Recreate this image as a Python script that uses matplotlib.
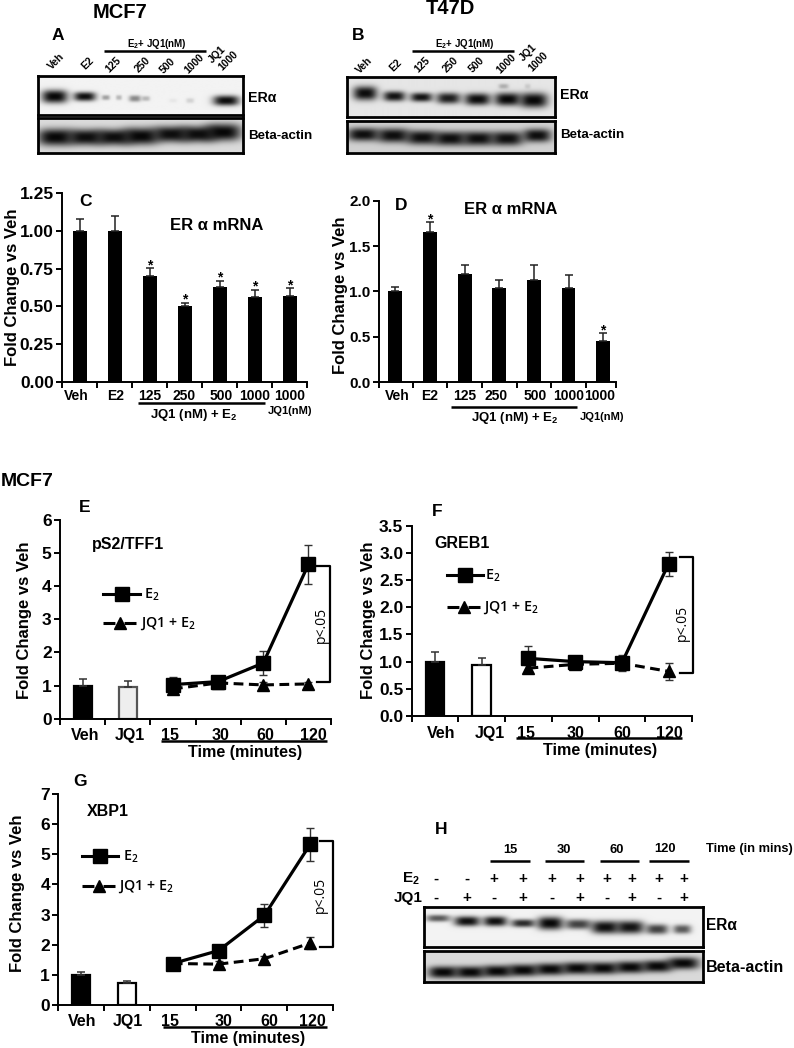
import numpy as np
import matplotlib
matplotlib.use("Agg")
import matplotlib.pyplot as plt

plt.rcParams['font.family'] = ['Liberation Sans', 'DejaVu Sans']
plt.rcParams['mathtext.default'] = 'regular'

W, H = 794, 1048

# ---- bar panels
bar_labels = ["Veh", "E2", "125", "250", "500", "1000", "1000"]
c_vals = [1.0, 1.0, 0.70, 0.50, 0.63, 0.565, 0.57]
c_errs = [0.08, 0.095, 0.055, 0.025, 0.04, 0.045, 0.05]
c_stars = [2, 3, 4, 5, 6]
d_vals = [1.0, 1.65, 1.19, 1.04, 1.13, 1.04, 0.45]
d_errs = [0.05, 0.11, 0.10, 0.08, 0.16, 0.14, 0.09]
d_stars = [1, 6]

# ---- time course panels
time_labels = ["Veh", "JQ1", "15", "30", "60", "120"]
e_bars, e_bar_errs = [1.0, 0.96], [0.2, 0.18]
e_e2, e_e2_err = [1.03, 1.12, 1.68, 4.66], [0.24, 0.06, 0.37, 0.58]
e_jq, e_jq_err = [0.9, 1.08, 1.02, 1.05], [0.06, 0.05, 0.1, 0.05]
f_bars, f_bar_errs = [1.0, 0.93], [0.17, 0.13]
f_e2, f_e2_err = [1.06, 1.0, 0.98, 2.8], [0.22, 0.1, 0.1, 0.22]
f_jq, f_jq_err = [0.88, 0.95, 0.97, 0.82], [0.05, 0.08, 0.15, 0.15]
g_bars, g_bar_errs = [0.98, 0.72], [0.1, 0.08]
g_e2, g_e2_err = [1.37, 1.8, 2.97, 5.33], [0.06, 0.1, 0.38, 0.55]
g_jq, g_jq_err = [1.37, 1.35, 1.53, 2.05], [0.05, 0.1, 0.1, 0.2]

# ---- blots: lane x, lane y, half width, half height, darkness (picture pixels)
a_era = ([54, 84, 105, 118, 134, 145, 172, 189, 225],
         [97, 97, 98, 98, 99, 99, 101, 101, 101],
         [13, 11, 4, 3, 6, 4, 4, 4, 13],
         [6.5, 4.5, 2.5, 2.5, 3.2, 2.5, 2, 2.5, 5],
         [1, .97, .35, .25, .45, .25, .05, .14, .98])
a_act = ([55, 85, 113, 140, 170, 197, 222],
         [137, 137, 137, 136, 134, 134, 132],
         [18, 18, 18, 18, 18, 18, 18],
         [8.5, 8, 8, 8.5, 8, 8, 8.5],
         [1, .97, .97, 1, .97, .97, 1])
b_era = ([365, 394, 421, 448, 477, 507, 533, 503, 527],
         [93, 96, 97, 98, 99, 99, 100, 86, 86],
         [12, 11, 11, 12, 13, 13, 14, 5, 3],
         [7, 5, 4.5, 5.5, 6, 6.5, 7.5, 2.5, 2.5],
         [.98, .95, .95, .9, .98, 1, 1, .25, .12])
b_act = ([363, 393, 422, 450, 478, 507, 537],
         [135, 136, 138, 139, 139, 139, 136],
         [16, 16, 16, 16, 16, 16, 14],
         [6.5, 7, 7, 7, 7, 7, 6.5],
         [.97, .97, .97, .97, .97, .97, .97])
h_era = ([438, 467, 495, 523, 550, 578, 605, 630, 657, 682],
         [918, 921, 921, 923, 923, 924, 927, 927, 929, 929],
         [12, 13, 12, 12, 13, 13, 14, 14, 11, 9],
         [3.5, 5, 5, 4, 6.5, 5, 6.5, 6.5, 5, 4.5],
         [.65, .97, .97, .85, 1, .75, .97, .95, .75, .65])
h_act = ([443, 470, 497, 523, 550, 577, 603, 630, 657, 683],
         [972, 972, 971, 970, 969, 968, 968, 967, 966, 963],
         [15, 15, 15, 15, 15, 15, 15, 15, 15, 16],
         [6, 6, 6, 6, 6, 6, 6, 6, 6, 6],
         [1, 1, 1, 1, 1, 1, 1, 1, 1, 1])

e2_signs = ["-", "-", "+", "+", "+", "+", "+", "+", "+", "+"]
jq_signs = ["-", "+", "-", "+", "-", "+", "-", "+", "-", "+"]
sign_x = [436, 467, 494, 523, 552, 580, 607, 632, 659, 684]

fig = plt.figure(figsize=(W / 100, H / 100), dpi=100)


def px_axes(left, top, right, bottom):
    return fig.add_axes([left / W, 1 - bottom / H, (right - left) / W, (bottom - top) / H])


# overlay in picture pixels, for labels and brackets
ov = fig.add_axes([0, 0, 1, 1], zorder=10)
ov.set_xlim(0, W)
ov.set_ylim(H, 0)
ov.axis('off')


def label(x, y, s, size=10, weight='bold', ha='center', va='center', rot=0, **kw):
    ov.text(x, y, s, fontsize=size, fontweight=weight, ha=ha, va=va, rotation=rot,
            rotation_mode='anchor', **kw)


def hline(x0, x1, y, lw=1.8):
    ov.plot([x0, x1], [y, y], color='black', lw=lw, solid_capstyle='butt')


def blot(rect, band, bg=0.95):
    left, top, right, bottom = rect
    ax = px_axes(left, top, right, bottom)
    xx, yy = np.meshgrid(np.arange(left, right, 0.5), np.arange(top, bottom, 0.5))
    light = np.ones_like(xx)
    for x, y, w, h, d in zip(*band):
        light *= 1 - d * np.exp(-np.abs((xx - x) / w) ** 3 - np.abs((yy - y) / h) ** 2.5)
    ax.imshow(0.03 + (bg - 0.03) * light, cmap='gray', vmin=0, vmax=1, aspect='auto',
              extent=(left, right, bottom, top), interpolation='bilinear')
    ax.set_xticks([])
    ax.set_yticks([])
    for s in ax.spines.values():
        s.set_linewidth(2)


def style(ax, yticks, fmt, size, xsize, pad):
    ax.spines['top'].set_visible(False)
    ax.spines['right'].set_visible(False)
    ax.spines['left'].set_linewidth(1.4)
    ax.spines['bottom'].set_linewidth(1.4)
    ax.set_yticks(yticks)
    ax.set_yticklabels([fmt % t for t in yticks], fontsize=size, fontweight='bold')
    ax.tick_params(axis='y', length=4, width=1.4, pad=2)
    ax.tick_params(axis='x', which='major', length=0, pad=pad, labelsize=xsize)
    ax.tick_params(axis='x', which='minor', length=4, width=1.4)
    for t in ax.get_xticklabels():
        t.set_fontweight('bold')


def bar_panel(rect, vals, errs, stars, xlim, ymax, yticks, fmt, label_pos, tsize=12.5):
    ax = px_axes(*rect)
    x = np.arange(len(vals))
    ax.bar(x, vals, width=0.4, color='black')
    ax.errorbar(x, vals, yerr=[np.zeros(len(vals)), errs], fmt='none', ecolor='#222222',
                elinewidth=1.1, capsize=3, capthick=1.1)
    for i in stars:
        ax.annotate('*', (x[i], vals[i] + errs[i]), xytext=(0, -3), textcoords='offset points',
                    ha='center', va='bottom', fontsize=10, fontweight='bold')
    ax.set_xlim(*xlim)
    ax.set_ylim(0, ymax)
    ax.set_xticks(label_pos)
    ax.set_xticklabels(bar_labels)
    ax.set_xticks([xlim[0]] + [i + 0.5 for i in range(6)] + [xlim[1]], minor=True)
    style(ax, yticks, fmt, tsize, 10, 5)
    return ax


def time_panel(rect, bars, bar_errs, e2, e2_err, jq, jq_err, ymax, yticks, fmt, face, edge, label_pos):
    ax = px_axes(*rect)
    ax.bar([0, 1], bars, width=0.4, color=[('black'), face], edgecolor=['black', edge], linewidth=1.6)
    ax.errorbar([0, 1], bars, yerr=[[0, 0], bar_errs], fmt='none', ecolor='#333333',
                elinewidth=1.1, capsize=3, capthick=1.1)
    t = np.arange(2, 6)
    ax.errorbar(t, jq, yerr=jq_err, color='black', lw=2.2, ls=(0, (3.2, 1.8)), marker='^', ms=8,
                ecolor='#333333', elinewidth=1, capsize=3, capthick=1)
    ax.errorbar(t, e2, yerr=e2_err, color='black', lw=2.3, marker='s', ms=9.5,
                ecolor='#333333', elinewidth=1, capsize=3, capthick=1)
    ax.set_xlim(-0.5, 5.5)
    ax.set_ylim(0, ymax)
    ax.set_xticks(label_pos)
    ax.set_xticklabels(time_labels)
    ax.set_xticks(np.arange(-0.5, 5.6, 1), minor=True)
    style(ax, yticks, fmt, 12.5, 11.5, 7)
    return ax


def legend_key(x0, x1, y, marker, ms, dashed, text, tx):
    ls = (0, (3.9, 3.0)) if dashed else '-'
    ov.plot([x0, x1], [y, y], color='black', lw=2.2, ls=ls, dash_capstyle='butt')
    ov.plot([(x0 + x1) / 2], [y], color='black', marker=marker, ms=ms)
    ov.text(tx, y + 1, text, fontsize=10.3, fontfamily='Open Sans', fontweight='semibold',
            ha='left', va='center')


def bracket(x0, x1, top, bottom, tx, ty):
    ov.plot([x0, x1, x1, x0], [top, top, bottom, bottom], color='black', lw=1.6)
    ov.text(tx, ty, 'p<.05', fontsize=10, fontfamily='Open Sans', rotation=90, ha='center', va='center')


# ---- blots A, B, H
blot((37.5, 76, 243, 114.5), a_era)
blot((37.5, 118, 243, 153), a_act, 0.86)
blot((347, 77, 554.5, 117), b_era, 0.9)
blot((347, 121, 555, 152.5), b_act, 0.82)
blot((424, 907, 703, 947), h_era)
blot((424, 951, 703, 982), h_act, 0.85)

# ---- charts
bar_panel((62, 193, 307, 382), c_vals, c_errs, c_stars, (-0.5, 6.5), 1.25,
          [0, .25, .5, .75, 1, 1.25], '%.2f', [-0.08, 1.02, 2, 3, 4.05, 5, 6])
bar_panel((379, 200.7, 616, 382), d_vals, d_errs, d_stars, (-0.47, 6.37), 2.0,
          [0, .5, 1, 1.5, 2], '%.1f', [0.05, 1, 2, 2.9, 4.05, 5, 5.9], tsize=11)
time_panel((60, 520, 331, 718.7), e_bars, e_bar_errs, e_e2, e_e2_err, e_jq, e_jq_err, 6,
           [0, 1, 2, 3, 4, 5, 6], '%d', '#eeeeee', '#555555', [0.06, 1.05, 1.94, 3.05, 4.05, 5.12])
time_panel((411.7, 525.7, 692, 716), f_bars, f_bar_errs, f_e2, f_e2_err, f_jq, f_jq_err, 3.5,
           [0, .5, 1, 1.5, 2, 2.5, 3, 3.5], '%.1f', 'white', 'black', [0.12, 1.17, 1.95, 3, 4, 5.02])
time_panel((58.3, 794.3, 333, 1004.7), g_bars, g_bar_errs, g_e2, g_e2_err, g_jq, g_jq_err, 7,
           [0, 1, 2, 3, 4, 5, 6, 7], '%d', 'white', 'black', [0.02, 1.02, 1.95, 3.1, 4.1, 5.05])

# ---- y labels
for x, y in [(13, 287), (341, 295), (25, 620), (369, 620), (18, 893)]:
    label(x, y, 'Fold Change vs Veh', size=12, rot=90)

# ---- panel headings
label(120, 12, 'MCF7', size=14.5)
label(450, 9, 'T47D', size=14.5)
label(1, 482, 'MCF7', size=14, ha='left')
for x, y, s in [(58, 36, 'A'), (358, 36, 'B'), (86, 202, 'C'), (401, 205, 'D'), (85, 507, 'E'),
                (437, 511, 'F'), (80, 782, 'G'), (441, 829, 'H')]:
    label(x, y, s, size=12.5)

label(217, 225, 'ER α mRNA', size=12)
label(511, 210, 'ER α mRNA', size=12)
label(128, 544, 'pS2/TFF1', size=11.5)
label(462, 543, 'GREB1', size=11.5)
label(108, 812, 'XBP1', size=11.5)

# ---- lane labels above blots A and B
for x, y, s in [(56, 61, 'Veh'), (88, 63, 'E2'), (113, 65, '125'), (143, 65, '250'), (168, 66, '500'),
                (194, 64, '1000'), (217, 55, 'JQ1'), (228, 61, '1000'),
                (364, 65, 'Veh'), (396, 65, 'E2'), (422, 65, '125'), (451, 65, '250'), (477, 65, '500'),
                (506, 64, '1000'), (528, 53, 'JQ1'), (538, 62, '1000')]:
    label(x, y, s, size=7.5, rot=45)
label(157, 44, 'E$_2$+ JQ1(nM)', size=7)
label(465, 44, 'E$_2$+ JQ1(nM)', size=7)
hline(104, 206, 51)
hline(412, 514, 51)
for x, y, sz in [(248, 98, 10.2), (560, 95, 10.2), (706, 925, 11.2)]:
    label(x, y, 'ERα', size=sz, ha='left')
for x, y, sz in [(248, 136, 9.6), (560, 135, 9.6), (706, 968, 11.6)]:
    label(x, y, 'Beta-actin', size=sz, ha='left')

# ---- group labels under bars
hline(138, 265, 403)
label(194, 415, 'JQ1 (nM) + E$_2$', size=9.5)
label(290, 411, 'JQ1(nM)', size=8)
hline(451, 577, 407)
label(515, 418, 'JQ1 (nM) + E$_2$', size=9.5)
label(602, 417, 'JQ1(nM)', size=8)

# ---- time underlines
hline(161, 327, 741)
label(245, 753, 'Time (minutes)', size=11.6)
hline(516, 682, 738)
label(600, 751, 'Time (minutes)', size=11.6)
hline(163, 327, 1027)
label(248, 1039, 'Time (minutes)', size=11.6)

# ---- legends and brackets
legend_key(103, 140, 594, 's', 9.5, False, 'E$_2$', 144)
legend_key(103, 136, 623, '^', 8, True, 'JQ1 + E$_2$', 140)
legend_key(447, 483, 575, 's', 9.5, False, 'E$_2$', 485)
legend_key(447, 480, 607, '^', 8, True, 'JQ1 + E$_2$', 483)
legend_key(82, 118, 856, 's', 9.5, False, 'E$_2$', 123)
legend_key(82, 115, 886, '^', 8, True, 'JQ1 + E$_2$', 118)
bracket(317, 330, 566, 682, 321, 625)
bracket(680, 693, 557, 673, 682, 623)
bracket(320, 333, 841, 947, 320, 895)

# ---- panel H header
for x, y, s, x0, x1 in [(510, 850, '15', 490, 530), (564, 850, '30', 545, 584),
                        (617, 850, '60', 600, 639), (665, 849, '120', 649, 689)]:
    label(x, y, s, size=9.3)
    hline(x0, x1, 861)
label(706, 849, 'Time (in mins)', size=9.3, ha='left')
label(402, 879, 'E$_2$', size=11, ha='left')
label(394, 898, 'JQ1', size=11, ha='left')
for x, a, b in zip(sign_x, e2_signs, jq_signs):
    label(x, 879, a, size=11)
    label(x, 898, b, size=11)

fig.savefig('out.png', dpi=100)
